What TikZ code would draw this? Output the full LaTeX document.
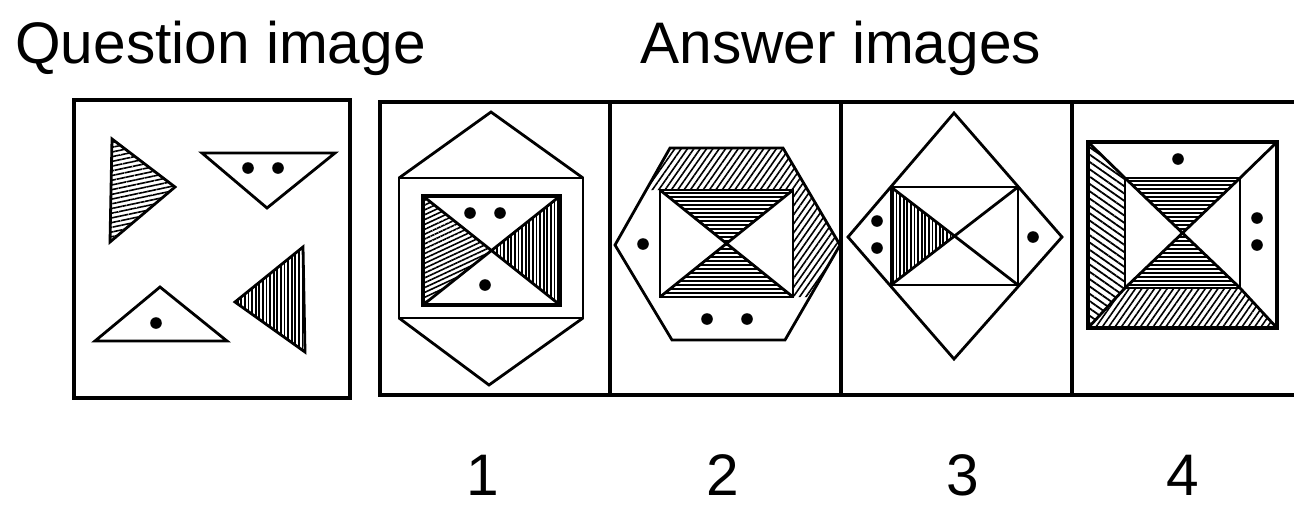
\documentclass[tikz,border=0pt]{standalone}
\usepackage{fontspec}
\setmainfont{Liberation Sans}
\usetikzlibrary{patterns.meta}

\begin{document}
\begin{tikzpicture}[x=0.5pt, y=-0.5pt, line join=miter,
  frame/.style={line width=1.6pt},
  fig/.style={line width=1.4pt},
  bold/.style={line width=2.2pt},
  lbl/.style={font=\fontsize{29.3}{35}\selectfont, inner sep=0pt},
  hatchh/.style={pattern={Lines[angle=0, distance=2pt, line width=0.9pt]}},
  hatchq/.style={pattern={Lines[angle=12, distance=2.3pt, line width=0.8pt]}},
  hatchv/.style={pattern={Lines[angle=90, distance=1.8pt, line width=0.9pt]}},
  hatchs/.style={pattern={Lines[angle=25, distance=2.2pt, line width=0.8pt]}},
  hatchne/.style={pattern={Lines[angle=55, distance=2.6pt, line width=0.8pt]}},
  hatchnw/.style={pattern={Lines[angle=-35, distance=3pt, line width=0.9pt]}}]
\useasboundingbox (0,0) rectangle (1294,505);

\node[lbl, anchor=base west] (qlabel) at (15,63) {Question image};
\node[lbl, anchor=base west] (alabel) at (640,63) {Answer images};

\draw[frame] (74,100) rectangle (350,398);
\draw[frame] (1294,102) -- (380,102) -- (380,395) -- (1294,395);
\draw[frame] (610,102) -- (610,395);
\draw[frame] (841,102) -- (841,395);
\draw[frame] (1072,102) -- (1072,395);

% question
\draw[fig, hatchq] (112,139) -- (175,187) -- (110,242) -- cycle;
\draw[fig] (202,153) -- (335,153) -- (267,208) -- cycle;
\draw[fig] (160,287) -- (227,341) -- (95,341) -- cycle;
\draw[fig, hatchv] (303,247) -- (305,352) -- (235,302) -- cycle;
\fill (248,168) circle[radius=2.9pt];
\fill (278,168) circle[radius=2.9pt];
\fill (156,323) circle[radius=2.9pt];

% answer 1
\draw[fig] (399,178) rectangle (583,318);
\draw[fig] (399,178) -- (491,112) -- (583,178);
\draw[fig] (399,318) -- (489,385) -- (583,318);
\path[hatchs] (423,196) -- (491.5,250.5) -- (423,305) -- cycle;
\path[hatchv] (560,196) -- (491.5,250.5) -- (560,305) -- cycle;
\draw[bold] (423,196) rectangle (560,305);
\draw[fig] (423,196) -- (560,305) (423,305) -- (560,196);
\fill (470,213) circle[radius=2.9pt];
\fill (500,213) circle[radius=2.9pt];
\fill (485,285) circle[radius=2.9pt];

% answer 2
\path[hatchne] (646,190) -- (670,148) -- (783,148) -- (840,245) -- (810,297) -- (793,297) -- (793,190) -- cycle;
\path[hatchh] (660,190) -- (793,190) -- (726.5,243.5) -- cycle;
\path[hatchh] (660,297) -- (793,297) -- (726.5,243.5) -- cycle;
\draw[fig] (670,148) -- (783,148) -- (840,245) -- (785,340) -- (672,340) -- (615,245) -- cycle;
\draw[fig] (660,190) rectangle (793,297);
\draw[fig] (660,190) -- (793,297) (660,297) -- (793,190);
\fill (643,244) circle[radius=2.9pt];
\fill (707,319) circle[radius=2.9pt];
\fill (747,319) circle[radius=2.9pt];

% answer 3
\path[hatchv] (891,187) -- (954.5,236) -- (891,285) -- cycle;
\draw[fig] (954,113) -- (1062,237) -- (954,359) -- (848,237) -- cycle;
\draw[fig] (891,187) rectangle (1018,285);
\draw[fig] (891,187) -- (1018,285) (891,285) -- (1018,187);
\fill (877,221) circle[radius=2.9pt];
\fill (877,248) circle[radius=2.9pt];
\fill (1033,237) circle[radius=2.9pt];

% answer 4
\path[hatchnw] (1088,142) -- (1125,178) -- (1125,288) -- (1088,328) -- cycle;
\path[hatchne] (1088,328) -- (1125,288) -- (1240,288) -- (1277,328) -- cycle;
\path[hatchh] (1125,178) -- (1240,178) -- (1182.5,233) -- cycle;
\path[hatchh] (1125,288) -- (1240,288) -- (1182.5,233) -- cycle;
\draw[bold] (1088,142) rectangle (1277,328);
\draw[fig] (1125,178) rectangle (1240,288);
\draw[fig] (1088,142) -- (1125,178) (1277,142) -- (1240,178)
  (1088,328) -- (1125,288) (1277,328) -- (1240,288);
\draw[fig] (1125,178) -- (1240,288) (1125,288) -- (1240,178);
\fill (1178,159) circle[radius=2.9pt];
\fill (1257,218) circle[radius=2.9pt];
\fill (1257,245) circle[radius=2.9pt];

\node[lbl] (num1) at (483,475) {1};
\node[lbl] (num2) at (723,475) {2};
\node[lbl] (num3) at (963,475) {3};
\node[lbl] (num4) at (1183,475) {4};
\end{tikzpicture}
\end{document}
